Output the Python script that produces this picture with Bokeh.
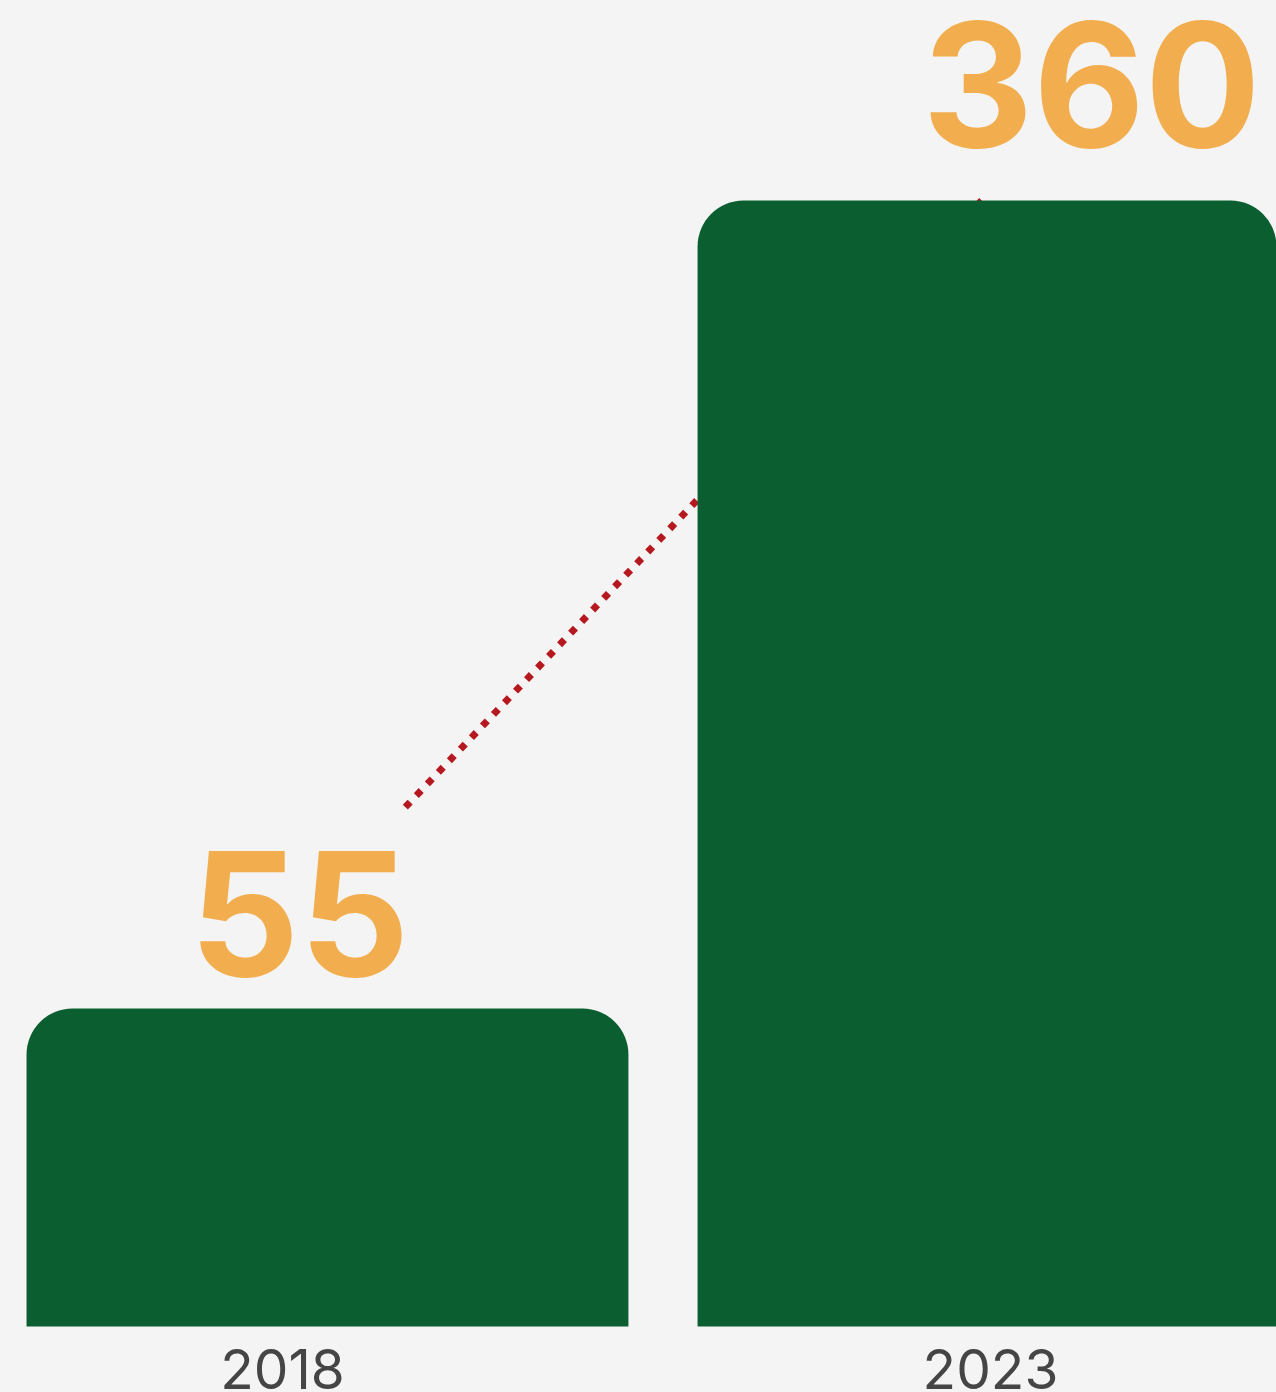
import numpy as np
from bokeh.plotting import figure
from bokeh.models import Range1d, ColumnDataSource
from bokeh.core.properties import value
from bokeh.embed import file_html
from bokeh.resources import INLINE

# ---- data ----
YEARS = ["2018", "2023"]
VALUES = [55, 360]
VALUE_LABELS = ["55", "360"]
BASE = -65          # visual baseline of the bars (bars are not drawn from zero)
CONNECTOR_Y = [131, 360]

# ---- layout / style ----
W, H = 1276, 1392
BG = "#f4f4f4"
GREEN = "#0b5e2f"
ORANGE = "#f2ae4e"
RED = "#b5191f"
GREY = "#454545"

idx = np.arange(len(YEARS))

p = figure(width=W, height=H, output_backend="svg", toolbar_location=None,
           x_range=Range1d(-0.4873, 1.4143), y_range=Range1d(-89.95, 435.49),
           x_axis_location=None, y_axis_location=None, min_border=0)
p.background_fill_color = BG
p.border_fill_color = BG
p.outline_line_color = None
p.grid.visible = False

# dotted connector (behind bars)
p.line(x=[idx[0] + 0.116, idx[1] - 0.025], y=CONNECTOR_Y, line_color=RED,
       line_width=7, line_dash="7 9", line_cap="butt")

bars = ColumnDataSource(dict(x=idx, top=VALUES, bottom=[BASE] * len(VALUES)))
p.vbar(x="x", top="top", bottom="bottom", width=0.897, source=bars,
       fill_color=GREEN, line_color=None, border_radius=(46, 46, 0, 0))

# value labels
lab = ColumnDataSource(dict(x=idx, y=VALUES, t=VALUE_LABELS,
                            dx=[-28, 93], dy=[-95, -116]))
p.text(x="x", y="y", text="t", x_offset="dx", y_offset="dy", source=lab,
       text_font=value("Inter"), text_font_style="bold", text_font_size="172px",
       text_color=ORANGE, text_align="center", text_baseline="alphabetic")

# year labels
yl = ColumnDataSource(dict(x=idx, y=[BASE] * len(YEARS), t=YEARS, dx=[-45, -8]))
p.text(x="x", y="y", text="t", x_offset="dx", y_offset=43, source=yl,
       text_font=value("Inter"), text_font_size="55px",
       text_color=GREY, text_align="center", text_baseline="alphabetic")

html = file_html(p, INLINE)
html = html.replace("</head>", "<style>html,body{background:#f4f4f4;}</style></head>", 1)
open("out.html", "w").write(html)
